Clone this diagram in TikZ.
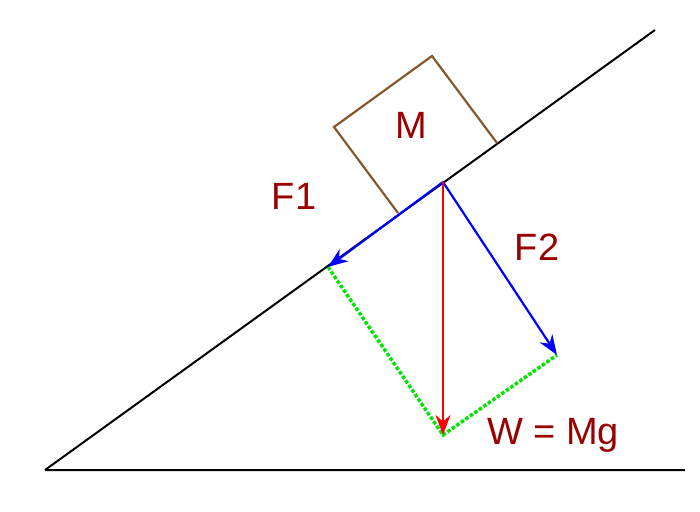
\documentclass[tikz,border=0pt]{standalone}
\usepackage{fontspec}
\usetikzlibrary{arrows.meta}
\setmainfont{Liberation Sans}
\begin{document}
\begin{tikzpicture}[x=1pt,y=-1pt,
  lbl/.style={text=red!60!black,font=\fontsize{38}{38}\selectfont,inner sep=0},
  force/.style={line width=2.2pt,-{Stealth[length=20pt,width=15pt]}},
  comp/.style={green!90!black,line width=3.5pt,dotted}]
\useasboundingbox (0,0) rectangle (700,511);
\coordinate (A) at (45,470);
\coordinate (T) at (655,30);
\coordinate (B) at (685,470);
\coordinate (O) at (443,182);
\coordinate (P1) at (328,267);
\coordinate (P2) at (557,355);
\coordinate (W) at (443,435);
\draw[line width=2pt] (A) -- (T) (A) -- (B);
\draw[brown!70!black,line width=2.2pt] (398,213) -- (334,127) -- (432,56) -- (497,143);
\draw[comp] (P1) -- (W) -- (P2);
\draw[force,blue] (O) -- (P1);
\draw[force,blue] (O) -- (P2);
\draw[force,red] (O) -- (W);
\node[lbl] (m) at (411,125) {M};
\node[lbl] (f1) at (294,196) {F1};
\node[lbl] (f2) at (537,247) {F2};
\node[lbl] (w) at (553,435) {W = Mg};
\end{tikzpicture}
\end{document}
